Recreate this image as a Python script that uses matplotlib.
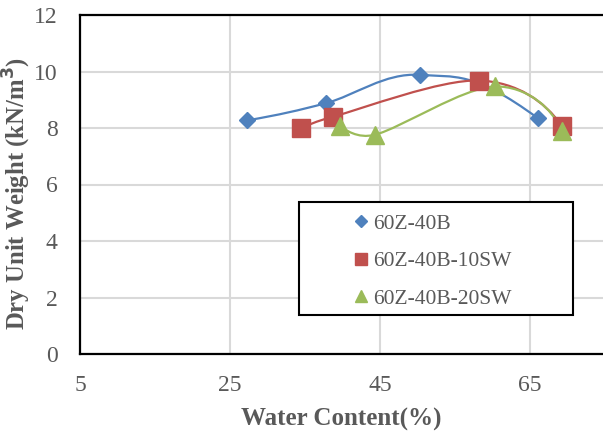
import numpy as np
import matplotlib
matplotlib.use("Agg")
import matplotlib.pyplot as plt
from matplotlib.path import Path
from matplotlib.patches import PathPatch, Rectangle

# data
x_b = [27.3, 37.8, 50.3, 66.0]
y_b = [8.27, 8.88, 9.88, 8.35]
x_r = [34.4, 38.7, 58.2, 69.2]
y_r = [7.99, 8.4, 9.68, 8.08]
x_g = [39.7, 44.3, 60.3, 69.2]
y_g = [8.08, 7.76, 9.47, 7.89]
labels = ["60Z-40B", "60Z-40B-10SW", "60Z-40B-20SW"]
colors = ["#4f81bd", "#c0504d", "#9bbb59"]
markers = ["D", "s", "^"]
msizes = [8.5, 12.5, 12.5]

xticks = [5, 25, 45, 65]
yticks = [0, 2, 4, 6, 8, 10, 12]

gray = "#595959"
plt.rcParams['font.family'] = ['Liberation Serif', 'DejaVu Serif']

W, H = 603, 437
fig = plt.figure(figsize=(W / 100, H / 100), dpi=100)
ax = fig.add_axes([80 / W, (H - 354) / H, 1 - 80 / W, (354 - 15) / H])
ax.set_xlim(5, 74.7)
ax.set_ylim(0, 12)


def reflect(t, chord):
    u = chord / np.linalg.norm(chord)
    return 2 * np.dot(t, u) * u - t


def smooth_path(xs, ys):
    # smoothed line like the spreadsheet one, worked out in pixel space
    P = ax.transData.transform(np.column_stack([xs, ys]))
    n = len(P)
    verts = [P[0]]
    codes = [Path.MOVETO]
    for i in range(n - 1):
        p1, p2 = P[i], P[i + 1]
        chord = p2 - p1
        d12 = np.linalg.norm(chord)
        c1 = c2 = None
        if i > 0:
            d02 = np.linalg.norm(p2 - P[i - 1])
            f = 1 / 6 if d02 / 6 < d12 / 2 else d12 / (2 * d02)
            c1 = p1 + f * (p2 - P[i - 1])
        if i + 2 < n:
            d13 = np.linalg.norm(P[i + 2] - p1)
            f = 1 / 6 if d13 / 6 < d12 / 2 else d12 / (2 * d13)
            c2 = p2 - f * (P[i + 2] - p1)
        # end segments: tangent mirrored about the chord
        if c1 is None and i + 2 < n:
            r = reflect(P[i + 2] - p1, chord)
            k = np.clip(d12 / np.linalg.norm(P[i + 2] - p2) * 0.5, 0.15, 0.7)
            c1 = p1 + r / np.linalg.norm(r) * d12 * k
        if c2 is None and i > 0:
            r = reflect(p2 - P[i - 1], chord)
            k = np.clip(d12 / np.linalg.norm(p1 - P[i - 1]) * 0.5, 0.15, 0.7)
            c2 = p2 - r / np.linalg.norm(r) * d12 * k
        if c1 is None:
            c1 = p1 + chord / 3
        if c2 is None:
            c2 = p2 - chord / 3
        verts += [c1, c2, p2]
        codes += [Path.CURVE4] * 3
    verts = ax.transData.inverted().transform(np.array(verts))
    return Path(verts, codes)


series = [(x_b, y_b), (x_r, y_r), (x_g, y_g)]
handles = []
for (xs, ys), lab, c, m, ms in zip(series, labels, colors, markers, msizes):
    ax.add_patch(PathPatch(smooth_path(xs, ys), facecolor="none",
                           edgecolor=c, lw=1.6, zorder=3))
    h, = ax.plot(xs, ys, ls="none", marker=m, ms=ms, color=c, label=lab, zorder=4)
    handles.append(h)

ax.set_xticks(xticks)
ax.set_yticks(yticks)
ax.grid(True, color="#d9d9d9", lw=1.5)
ax.set_axisbelow(True)
ax.tick_params(length=0, labelsize=17, colors=gray)
ax.tick_params(axis="x", pad=15)
ax.tick_params(axis="y", pad=16)

for s in ["left", "bottom", "top"]:
    ax.spines[s].set_linewidth(1.6)
    ax.spines[s].set_color("black")
ax.spines["right"].set_visible(False)

ax.set_xlabel("Water Content(%)", fontsize=18, fontweight="bold", color=gray, labelpad=9)
ax.set_ylabel("Dry Unit Weight (kN/m$^\\mathbf{3}$)", fontsize=17.8, fontweight="bold",
              color=gray)
ax.yaxis.set_label_coords(-47 / 523, 0.5 - 9 / 339)

# legend box drawn on its own, entries placed inside it
fig.patches.append(Rectangle((299 / W, (H - 315) / H), 274 / W, 113 / H,
                             transform=fig.transFigure, facecolor="white",
                             edgecolor="black", lw=1.5, zorder=5))
leg = fig.legend(handles=handles, loc="upper left",
                 bbox_to_anchor=(346 / W, (H - 207) / H),
                 frameon=False, fontsize=15.5, labelcolor=gray,
                 handlelength=0.8, handletextpad=0.15, borderpad=0.3,
                 labelspacing=0.82, markerscale=0.69, borderaxespad=0)
leg.set_zorder(6)

fig.savefig("out.png", dpi=100)
